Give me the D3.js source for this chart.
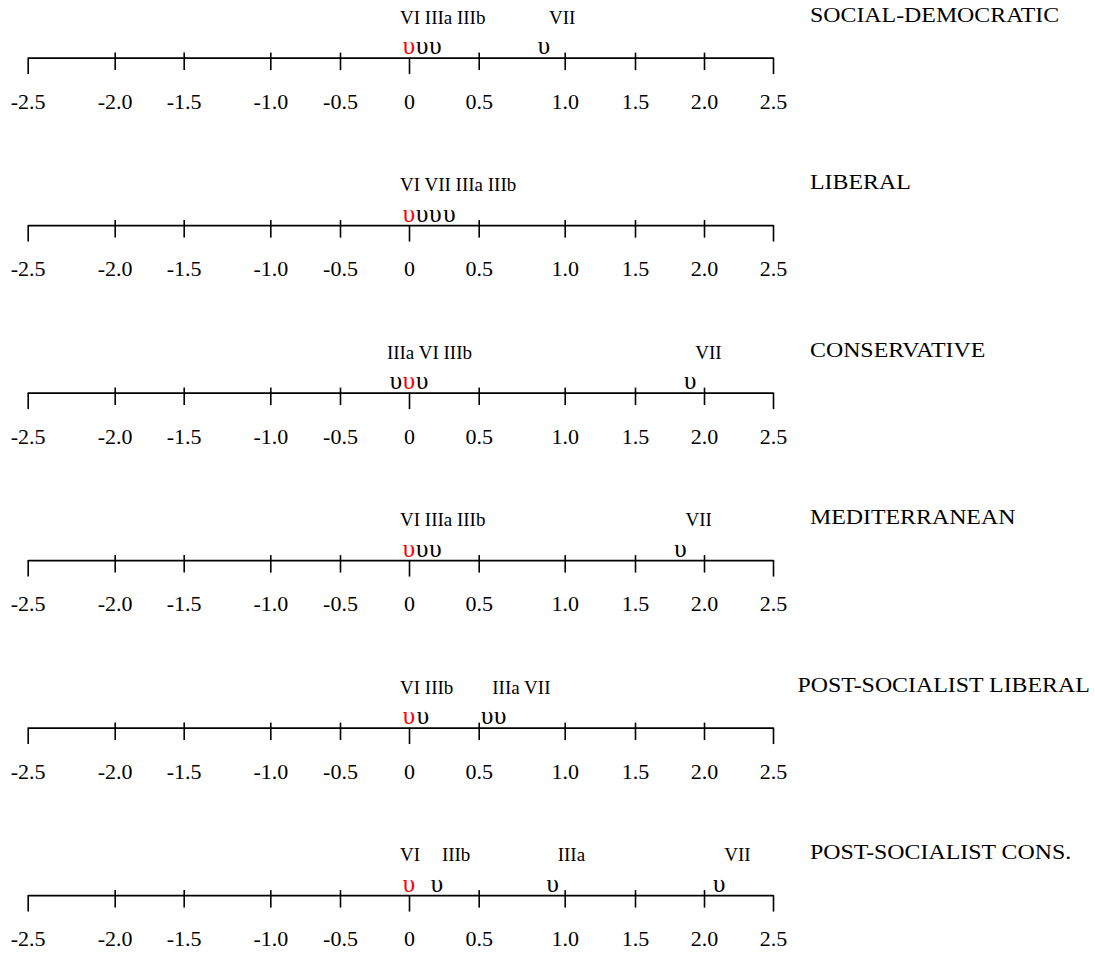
<!DOCTYPE html>
<html>
<head>
<meta charset="utf-8">
<script src="https://cdn.jsdelivr.net/npm/d3@7"></script>
<style>
  body { margin: 0; background: #fff; }
  text { font-family: "Liberation Serif", "Times New Roman", Times, serif; fill: #000; }
</style>
</head>
<body>
<svg id="chart" width="1095" height="955"></svg>
<script>
// ---- data -------------------------------------------------------------
// Welfare regimes, one panel each, top to bottom
const regimes = [
  "SOCIAL-DEMOCRATIC",
  "LIBERAL",
  "CONSERVATIVE",
  "MEDITERRANEAN",
  "POST-SOCIALIST LIBERAL",
  "POST-SOCIALIST CONS."
];

// Class categories; VI is the reference category (fixed at 0, drawn in red)
const classes = ["VI", "IIIa", "IIIb", "VII"];
const referenceClass = "VI";

// Estimated position of each class (order follows `classes`)
const socialDemocratic     = [0, 0.095, 0.19, 0.88];
const liberal              = [0, 0.19, 0.29, 0.095];
const conservative         = [0, -0.095, 0.095, 1.90];
const mediterranean        = [0, 0.095, 0.19, 1.83];
const postSocialistLiberal = [0, 0.55, 0.10, 0.625];
const postSocialistCons    = [0, 0.93, 0.20, 2.11];

const regimeValues = [
  socialDemocratic, liberal, conservative,
  mediterranean, postSocialistLiberal, postSocialistCons
];

// Axis tick labels
const axisTicks = [-2.5, -2.0, -1.5, -1.0, -0.5, 0, 0.5, 1.0, 1.5, 2.0, 2.5];
const longTicks = [-2.5, 0, 2.5];

// ---- layout -----------------------------------------------------------
const width = 1095, height = 955;
// The printed scale has uneven tick spacing; the scale follows it piecewise.
const tickPx = [27.7, 114.7, 183.7, 270.3, 340, 409, 478.7, 564.7, 635, 704, 773];
const firstAxisY = 57.6, panelStep = 167.5;

const x = d3.scaleLinear().domain(axisTicks).range(tickPx);

const svg = d3.select("#chart");
svg.append("rect").attr("width", width).attr("height", height).attr("fill", "#fff");

const fmt = d => d === 0 ? "0" : d.toFixed(1);
const titleStretch = 1.085;

regimes.forEach((name, i) => {
  const axisY = firstAxisY + i * panelStep;
  const g = svg.append("g").attr("transform", `translate(0,${axisY})`);

  // axis line, ticks and labels
  const axis = d3.axisBottom(x)
    .tickValues(axisTicks)
    .tickFormat(fmt)
    .tickSizeOuter(0)
    .tickPadding(0);
  const ax = g.append("g").call(axis);
  ax.select(".domain").attr("stroke", "#000").attr("stroke-width", 1.6);
  ax.selectAll(".tick line")
    .attr("stroke", "#000")
    .attr("stroke-width", 1.6)
    .attr("y1", d => longTicks.includes(d) ? 0 : -5)
    .attr("y2", d => longTicks.includes(d) ? 16.5 : 12.5);
  ax.selectAll(".tick text")
    .attr("y", 51)
    .attr("dy", null)
    .attr("fill", "#000")
    .style("font-family", '"Liberation Serif", "Times New Roman", serif')
    .style("font-size", "22px");

  // class markers
  const pts = classes.map((c, k) => ({ cls: c, value: regimeValues[i][k] }))
    .sort((a, b) => a.value - b.value);

  g.selectAll("text.marker")
    .data(pts)
    .join("text")
    .attr("class", "marker")
    .attr("x", d => x(d.value))
    .attr("y", -3.5)
    .attr("text-anchor", "middle")
    .style("font-size", "25px")
    .style("fill", d => d.cls === referenceClass ? "#ff0000" : "#000")
    .text("\u03C5");

  // group neighbouring markers under one label
  const groups = [];
  pts.forEach(p => {
    const last = groups[groups.length - 1];
    if (last && x(p.value) - x(last[last.length - 1].value) < 20) last.push(p);
    else groups.push([p]);
  });

  g.selectAll("text.cls")
    .data(groups)
    .join("text")
    .attr("class", "cls")
    .attr("x", grp => {
      const hasRef = grp.some(p => p.cls === referenceClass);
      return x(grp[0].value) + (hasRef ? -9 : 5);
    })
    .attr("y", -34)
    .style("font-size", "19px")
    .text(grp => grp.map(p => p.cls).join(" "));

  // regime title at the right
  const title = g.append("text")
    .style("font-size", "22px")
    .text(name);
  const w = title.node().getComputedTextLength() * titleStretch;
  const tx = Math.min(810, 1090 - w);
  title.attr("transform", `translate(${tx},-36) scale(${titleStretch},1)`);
});
</script>
</body>
</html>
